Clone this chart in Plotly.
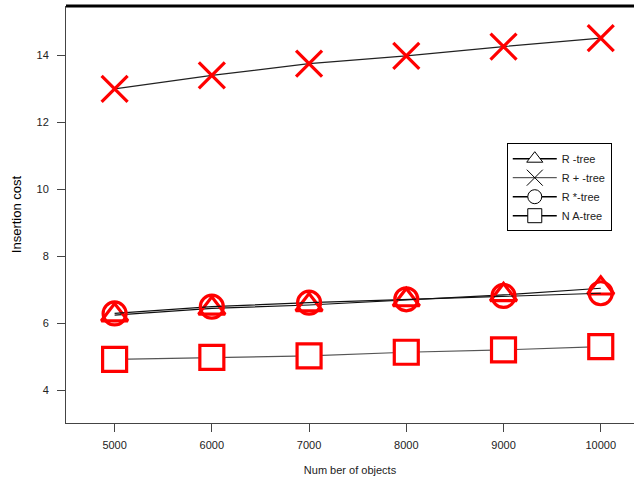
import plotly.graph_objects as go

x_objects = [5000, 6000, 7000, 8000, 9000, 10000]
r_tree = [6.25, 6.45, 6.55, 6.70, 6.85, 7.05]
rplus_tree = [13.0, 13.4, 13.75, 13.98, 14.26, 14.51]
rstar_tree = [6.30, 6.50, 6.62, 6.72, 6.82, 6.90]
na_tree = [4.93, 4.99, 5.03, 5.14, 5.21, 5.31]

series_names = ["R -tree", "R + -tree", "R *-tree", "N A-tree"]
series_values = [r_tree, rplus_tree, rstar_tree, na_tree]
plot_symbols = ["triangle-up-open", "x-thin", "circle-open", "square"]
legend_symbols = ["triangle-up", "x-thin", "circle", "square"]
sizes = [23, 26, 23, 24]
legend_sizes = [14, 16, 14, 14]
line_colors = ["#111111", "#222222", "#111111", "#555555"]

fig = go.Figure()
for name, vals, sym, sz, lc in zip(series_names, series_values, plot_symbols, sizes, line_colors):
    fig.add_trace(go.Scatter(
        x=x_objects, y=vals, mode="lines+markers", showlegend=False,
        line=dict(color=lc, width=1.2),
        marker=dict(symbol=sym, size=sz,
                    color="red" if sym.endswith("open") else "white",
                    line=dict(color="red", width=3.2)),
    ))
# legend-only entries (on a hidden overlaid axis pair so they do not draw in the plot)
for name, sym, lsz in zip(series_names, legend_symbols, legend_sizes):
    fig.add_trace(go.Scatter(
        x=[0], y=[0], mode="lines+markers", name=name, xaxis="x2", yaxis="y2",
        line=dict(color="black", width=1.6 if "+" not in name else 0.8),
        marker=dict(symbol=sym, size=lsz, color="white", line=dict(color="black", width=1)),
    ))

fig.update_layout(
    width=635, height=479,
    margin=dict(l=66, r=1, t=6, b=56),
    paper_bgcolor="white", plot_bgcolor="white",
    font=dict(family="Liberation Sans, Arial, sans-serif", size=11, color="#222222"),
    legend=dict(x=0.776, y=0.671, xanchor="left", yanchor="top",
                bgcolor="white", bordercolor="black", borderwidth=1,
                font=dict(size=11, color="#222222"), tracegroupgap=0,
                itemwidth=44),
    xaxis2=dict(overlaying="x", range=[10, 20], visible=False),
    yaxis2=dict(overlaying="y", range=[10, 20], visible=False),
    shapes=[dict(type="line", xref="paper", yref="paper", x0=0, x1=1, y0=1, y1=1,
                 line=dict(color="black", width=3))],
    xaxis=dict(
        range=[4500, 10342], tickvals=x_objects, ticktext=[str(v) for v in x_objects],
        showgrid=False, zeroline=False, showline=True, linecolor="#444444", linewidth=1,
        ticks="outside", ticklen=8, tickcolor="#444444", automargin=False,
        ticklabelstandoff=4,
        title=dict(text="Num ber of objects", font=dict(size=11, color="#222222"), standoff=16),
    ),
    yaxis=dict(
        range=[3.03, 15.47], tickvals=[4, 6, 8, 10, 12, 14],
        showgrid=False, zeroline=False, showline=True, linecolor="#444444", linewidth=1,
        ticks="outside", ticklen=8, tickcolor="#444444", automargin=False,
        ticklabelstandoff=6,
        title=dict(text="Insertion cost", font=dict(size=13, color="black"), standoff=11),
    ),
)

fig.write_html("out.html", config={"displayModeBar": False},
               post_script="document.body.style.margin='0';")
